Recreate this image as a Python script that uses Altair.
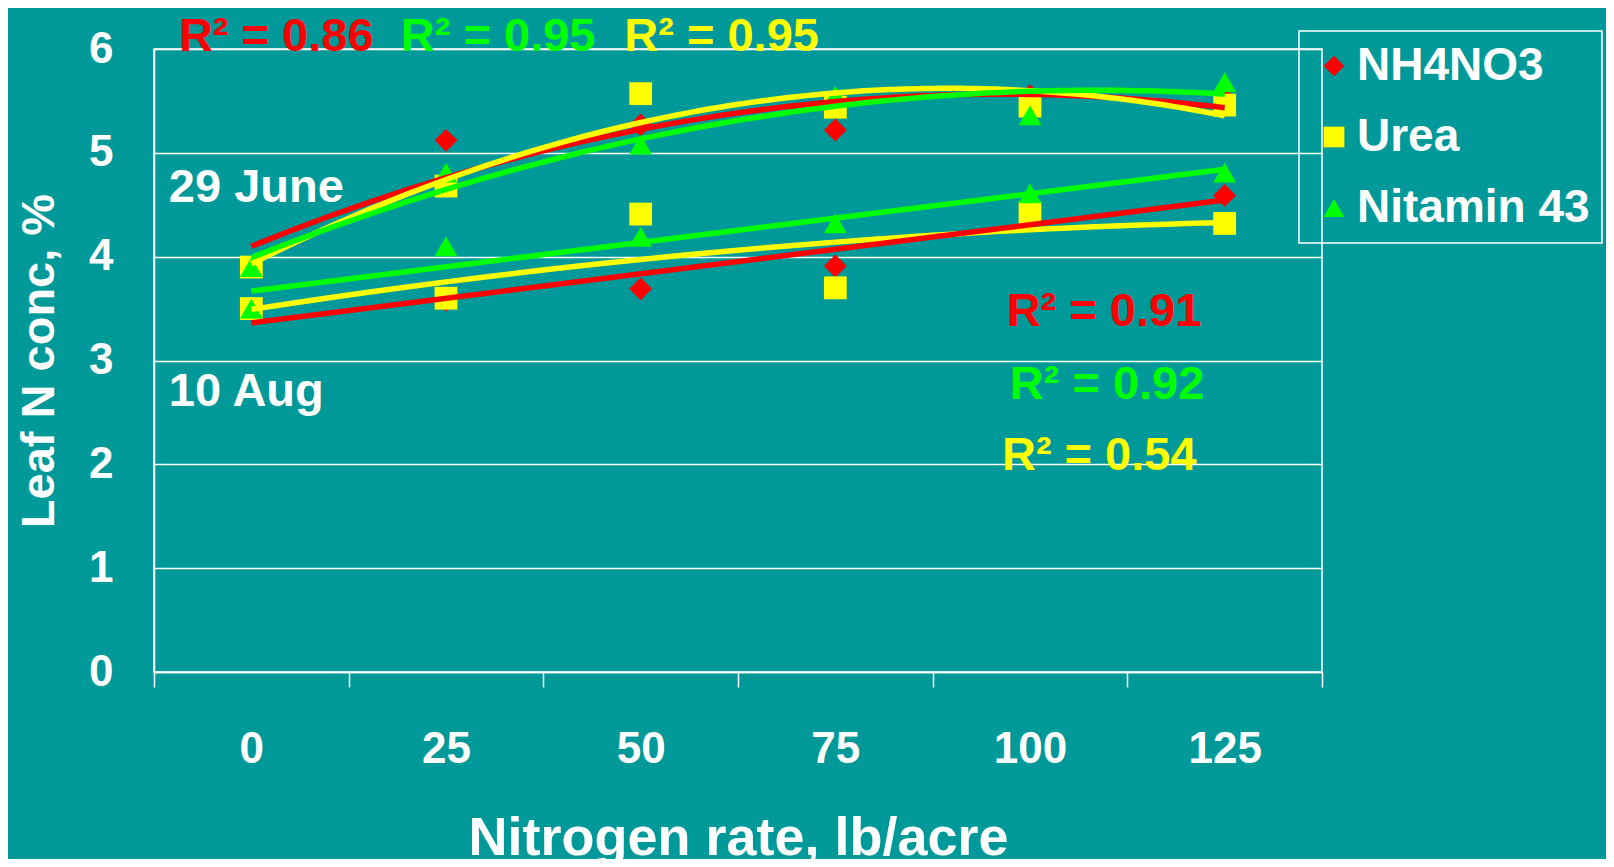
import altair as alt
import pandas as pd

# ---- data ----
rates = [0, 25, 50, 75, 100, 125]
series_names = ["NH4NO3", "Urea", "Nitamin 43"]
series_colors = ["#FF0000", "#FFFF00", "#00FF00"]
series_shapes = ["diamond", "square", "triangle-up"]

june_nh4no3 = [3.90, 5.12, 5.27, 5.22, 5.55, 5.52]
june_urea = [3.90, 4.68, 5.57, 5.44, 5.45, 5.46]
june_nitamin = [3.90, 4.81, 5.08, 5.55, 5.36, 5.68]
aug_nh4no3 = [3.50, 3.58, 3.69, 3.91, 4.45, 4.59]
aug_urea = [3.50, 3.60, 4.41, 3.70, 4.42, 4.32]
aug_nitamin = [3.50, 4.10, 4.19, 4.32, 4.61, 4.81]

ann_text = ["R² = 0.86", "R² = 0.95", "R² = 0.95", "29 June", "10 Aug",
            "R² = 0.91", "R² = 0.92", "R² = 0.54"]
ann_rate = [-9.3, 19.2, 47.9, -10.6, -10.6, 97.0, 97.4, 96.4]
ann_value = [5.98, 5.98, 5.98, 4.53, 2.56, 3.33, 2.63, 1.95]
ann_color = ["#FF0000", "#00FF00", "#FFFF00", "#FFFFFF", "#FFFFFF",
             "#FF0000", "#00FF00", "#FFFF00"]

# ---- build tables ----
rows = []
for date, groups in [("29 June", [june_nh4no3, june_urea, june_nitamin]),
                     ("10 Aug", [aug_nh4no3, aug_urea, aug_nitamin])]:
    for i, (name, vals) in enumerate(zip(series_names, groups)):
        for r, v in zip(rates, vals):
            rows.append({"date": date, "series": name, "rate": r, "value": v,
                         "lc": series_colors[i]})
df = pd.DataFrame(rows)
ann = pd.DataFrame({"text": ann_text, "rate": ann_rate, "value": ann_value, "color": ann_color})

FONT = "Liberation Sans"

xscale = alt.Scale(domain=[-12.5, 137.5], nice=False, zero=False)
yscale = alt.Scale(domain=[0, 6], nice=False, zero=False)
tick_vals = [-12.5, 0, 12.5, 25, 37.5, 50, 62.5, 75, 87.5, 100, 112.5, 125, 137.5]

X = alt.X("rate:Q", scale=xscale, title="Nitrogen rate, lb/acre",
          axis=alt.Axis(values=tick_vals, grid=False, tickSize=15, tickWidth=1.5,
                        tickColor="white",
                        tickOpacity={"condition": {"test": "datum.value % 25 == 0", "value": 0}, "value": 1},
                        labelExpr="datum.value % 25 == 0 ? datum.label : ''",
                        labelOverlap=False, labelFlush=False, labelBound=False,
                        labelBaseline="alphabetic", labelPadding=75,
                        labelFontSize=44, titleFontSize=54,
                        titleBaseline="alphabetic", titleY=182))
Y = alt.Y("value:Q", scale=yscale, title="Leaf N conc, %",
          axis=alt.Axis(values=[0, 1, 2, 3, 4, 5, 6], format="d", grid=True, ticks=False,
                        tickSize=0, labelPadding=41, labelFontSize=44, titleFontSize=47,
                        titleBaseline="alphabetic", titleX=-101))
X2 = alt.X("rate:Q", scale=xscale)
Y2 = alt.Y("value:Q", scale=yscale)

color_scale = alt.Scale(domain=series_names, range=series_colors)
shape_scale = alt.Scale(domain=series_names, range=series_shapes)

base = alt.Chart(df)

points = base.mark_point(filled=True, opacity=1, size=520, strokeWidth=0).encode(
    x=X, y=Y,
    color=alt.Color("series:N", scale=color_scale, title=None, sort=series_names),
    shape=alt.Shape("series:N", scale=shape_scale, title=None, sort=series_names),
    order=alt.Order("order:Q"),
).transform_calculate(order="indexof(['NH4NO3','Urea','Nitamin 43'], datum.series)")

line_color = alt.Color("lc:N", scale=None)

june_lines = base.transform_filter(alt.datum.date == "29 June").transform_regression(
    "rate", "value", groupby=["lc"], method="poly", order=2
).mark_line(strokeWidth=5.5).encode(x=X2, y=Y2, color=line_color)

aug_linear = base.transform_filter(
    (alt.datum.date == "10 Aug") & (alt.datum.series != "Urea")
).transform_regression("rate", "value", groupby=["lc"], method="linear"
).mark_line(strokeWidth=5.5).encode(x=X2, y=Y2, color=line_color)

aug_urea_line = base.transform_filter(
    (alt.datum.date == "10 Aug") & (alt.datum.series == "Urea")
).transform_regression("rate", "value", groupby=["lc"], method="poly", order=2
).mark_line(strokeWidth=5.5).encode(x=X2, y=Y2, color=line_color)

texts = alt.Chart(ann).mark_text(align="left", baseline="alphabetic", fontSize=47,
                                 fontWeight="bold", font=FONT).encode(
    x=X2, y=Y2, text="text:N", color=alt.Color("color:N", scale=None))

chart = alt.layer(points, june_lines, aug_urea_line, aug_linear, texts).properties(
    width=1168, height=623,
    autosize=alt.AutoSizeParams(type="none"),
    padding={"left": 146, "top": 41, "right": 284, "bottom": 187},
    background="#009999",
).configure_view(
    stroke="white", strokeWidth=1.5
).configure_axis(
    domainColor="white", domainWidth=1.5, gridColor="white", gridWidth=1.5,
    labelColor="white", titleColor="white", labelFont=FONT, titleFont=FONT,
    labelFontWeight="bold", titleFontWeight="bold",
).configure_legend(
    orient="none", legendX=1145, legendY=-18,
    strokeColor="white", strokeWidth=1.5, padding=12,
    labelFont=FONT, labelFontWeight="bold", labelFontSize=46, labelColor="white",
    labelLimit=500,
    symbolSize=430, symbolStrokeWidth=0, labelOffset=0, rowPadding=25,
    symbolOpacity=1,
)

chart.save("out.html", embed_options={"renderer": "svg", "actions": False})
